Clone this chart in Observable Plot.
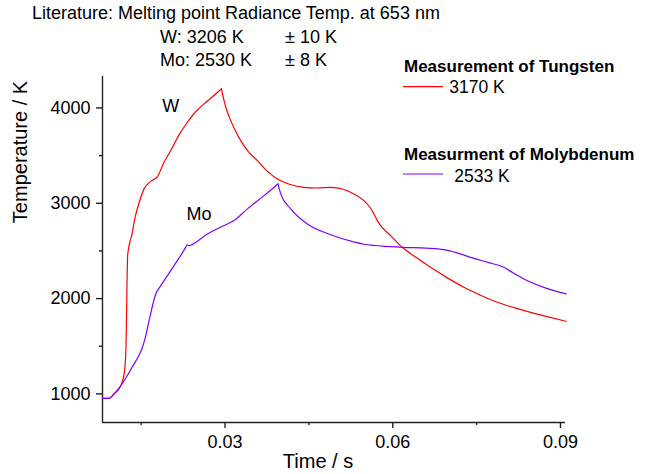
<!DOCTYPE html>
<html><head><meta charset="utf-8">
<script src="https://cdn.jsdelivr.net/npm/d3@7"></script>
<script src="https://cdn.jsdelivr.net/npm/@observablehq/plot@0.6"></script>
<style>
body{margin:0;background:#fff;}
#wrap{position:relative;width:646px;height:474px;}
#wrap svg{position:absolute;left:0;top:0;}
</style></head><body><div id="wrap"></div>
<script>
// Tungsten (W) measurement: time (s) and temperature (K)
const wTime = [0.00808,0.00926,0.01016,0.01136,0.01195,0.01222,0.01235,0.01245,0.01258,0.01285,0.01330,0.01390,0.01460,0.01552,0.01670,0.01792,0.01900,0.02029,0.02180,0.02328,0.02475,0.02625,0.02780,0.02936,0.02982,0.03040,0.03102,0.03190,0.03281,0.03420,0.03579,0.03750,0.03937,0.04150,0.04413,0.04650,0.04890,0.05100,0.05306,0.05485,0.05600,0.05664,0.05724,0.05784,0.05962,0.06171,0.06420,0.06677,0.06970,0.07273,0.07570,0.07869,0.08170,0.08465,0.08780,0.09100];
const wTemp = [954,954,1000,1087,1210,1400,1700,2100,2450,2560,2660,2850,3000,3151,3230,3280,3420,3553,3720,3850,3960,4043,4120,4200,4077,3960,3867,3755,3657,3540,3447,3340,3255,3200,3167,3160,3167,3150,3098,3028,2950,2888,2818,2766,2661,2538,2430,2328,2220,2118,2035,1961,1905,1856,1808,1762];
// Molybdenum (Mo) measurement
const moTime = [0.00808,0.00926,0.01016,0.01136,0.01250,0.01373,0.01452,0.01523,0.01582,0.01641,0.01761,0.01851,0.02088,0.02297,0.02320,0.02360,0.02387,0.02685,0.02982,0.03161,0.03400,0.03697,0.03947,0.03996,0.04174,0.04473,0.04890,0.05333,0.05485,0.05962,0.06171,0.06600,0.06915,0.07150,0.07392,0.07700,0.07988,0.08150,0.08345,0.08703,0.09100];
const moTemp = [954,954,1000,1087,1190,1315,1395,1489,1612,1769,2049,2136,2346,2540,2565,2555,2560,2678,2766,2818,2941,3080,3203,3098,2941,2783,2670,2590,2570,2545,2538,2530,2514,2480,2433,2380,2328,2270,2206,2118,2049];
// Axis ticks
const yMajor = [1000,2000,3000,4000];
const yMinor = [1500,2500,3500];
const xMajor = [0.03,0.06,0.09];
const xMinor = [0.015,0.045,0.075];
// Curve name labels (anchored in data units)
const curveNames = ["W","Mo"];
const curveNameTime = [0.02029,0.02535];
const curveNameTemp = [3954,2828];
// Header & legend text
const titleLines = ["Literature: Melting point Radiance Temp. at 653 nm"];
const litNames = ["W: 3206 K","Mo: 2530 K"];
const litErrors = ["\u00b1 10 K","\u00b1 8 K"];
const legendTitles = ["Measurement of Tungsten","Measurment of Molybdenum"];
const legendValues = ["3170 K","2533 K"];
const colors = ["#ff0000","#8000ff"];

const FONT = '"Liberation Sans", Arial, Helvetica, sans-serif';
const xDom = [0.00808, 0.0909], yDom = [700, 4330];

// split each series at its peak so the cusp stays sharp while the rest is smooth
function segments(times, temps, name) {
  const p = d3.maxIndex(temps);
  const out = [];
  times.forEach((t,i)=>{
    if (i <= p) out.push({t, T:temps[i], z:name+"-rise"});
    if (i >= p) out.push({t, T:temps[i], z:name+"-fall"});
  });
  return out;
}
const wData = segments(wTime, wTemp, "W");
const moData = segments(moTime, moTemp, "Mo");
const names = curveNames.map((n,i)=>({n, t:curveNameTime[i], T:curveNameTemp[i]}));

const axisStyle = {stroke:"#222", strokeWidth:1.4};
const plot = Plot.plot({
  width:646, height:474,
  marginLeft:102, marginRight:81, marginTop:76, marginBottom:52,
  x:{domain:xDom}, y:{domain:yDom},
  style:{fontFamily:FONT, fontSize:"18px", color:"#000", background:"transparent"},
  marks:[
    Plot.axisY({ticks:yMajor, tickSize:6, tickPadding:6, tickFormat:d=>String(d), label:null, ...axisStyle}),
    Plot.axisY({ticks:yMinor, tickSize:3, tickFormat:()=>"", label:null, ...axisStyle}),
    Plot.axisX({ticks:xMajor, tickSize:6, tickPadding:7, tickFormat:d3.format(".2f"), label:null, ...axisStyle}),
    Plot.axisX({ticks:xMinor, tickSize:3, tickFormat:()=>"", label:null, ...axisStyle}),
    Plot.ruleX([xDom[0]], axisStyle),
    Plot.ruleY([yDom[0]], axisStyle),
    Plot.line(wData, {x:"t", y:"T", z:"z", curve:"monotone-x", stroke:colors[0], strokeWidth:1.2}),
    Plot.line(moData, {x:"t", y:"T", z:"z", curve:"monotone-x", stroke:colors[1], strokeWidth:1.2}),
    Plot.text(names, {x:"t", y:"T", text:"n", lineAnchor:"bottom", fill:"#000"})
  ]
});
const wrap = document.getElementById("wrap");
wrap.appendChild(plot);

// Overlay: header, legend, axis titles
const ov = d3.select(wrap).append("svg").attr("width",646).attr("height",474)
  .style("font-family",FONT).style("font-size","18px").attr("fill","#000");
ov.append("text").attr("x",32).attr("y",19.3).text(titleLines[0]);
const litY = [43.3, 66];
litNames.forEach((s,i)=>{
  ov.append("text").attr("x",160).attr("y",litY[i]).text(s);
  ov.append("text").attr("x",285).attr("y",litY[i]).text(litErrors[i]);
});
const legY = [71.7, 159.5], swY = [86.7, 174], valX = [449.3, 454.3], valY = [93.3, 181.7];
legendTitles.forEach((s,i)=>{
  ov.append("text").attr("x",404).attr("y",legY[i]).attr("font-weight","bold")
    .style("font-size","17px").text(s);
  ov.append("line").attr("x1",403).attr("x2",443).attr("y1",swY[i]).attr("y2",swY[i])
    .attr("stroke",colors[i]).attr("stroke-width",1.2);
  ov.append("text").attr("x",valX[i]).attr("y",valY[i]).style("font-size","17.5px").text(legendValues[i]);
});
ov.append("text").attr("transform","translate(27,152) rotate(-90)").attr("text-anchor","middle")
  .style("font-size","20px").text("Temperature / K");
ov.append("text").attr("x",318).attr("y",468).attr("text-anchor","middle")
  .style("font-size","20px").text("Time / s");
</script></body></html>
